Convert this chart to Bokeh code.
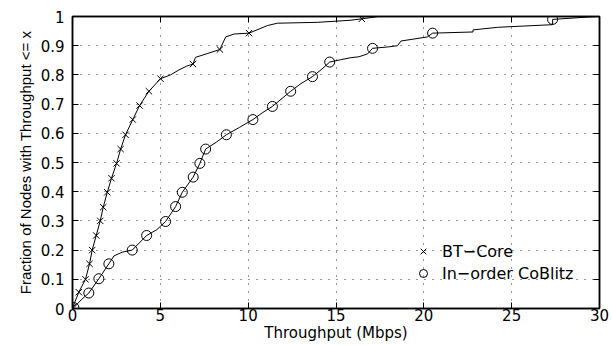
from bokeh.plotting import figure
from bokeh.models import (Range1d, LinearAxis, FixedTicker, CustomJSTickFormatter,
                          Legend, LegendItem)
from bokeh.embed import file_html
from bokeh.resources import INLINE

# ---- data ----
bt_x = [0, 0.02, 0.36, 0.74, 0.97, 1.12, 1.35, 1.58, 1.75, 1.98, 2.22, 2.51, 2.74, 3.02,
        3.43, 3.82, 4.35, 5.01, 5.58, 6.06, 6.5, 6.86, 7.0, 7.67, 8.39, 8.72, 9.2, 10.05,
        11.1, 11.66, 13.94, 15.8, 16.47, 17.4, 30]
bt_y = [0, 0.005, 0.056, 0.10, 0.153, 0.2, 0.25, 0.30, 0.347, 0.398, 0.446, 0.497, 0.546,
        0.595, 0.647, 0.695, 0.744, 0.787, 0.80, 0.817, 0.83, 0.837, 0.86, 0.873, 0.887,
        0.93, 0.94, 0.943, 0.969, 0.977, 0.98, 0.987, 0.992, 1.0, 1.0]
bt_mx = [0.02, 0.36, 0.74, 0.97, 1.12, 1.35, 1.58, 1.75, 1.98, 2.22, 2.51, 2.74, 3.02,
         3.43, 3.82, 4.35, 5.01, 6.86, 8.39, 10.05, 16.47]
bt_my = [0.005, 0.056, 0.10, 0.153, 0.2, 0.25, 0.30, 0.347, 0.398, 0.446, 0.497, 0.546,
         0.595, 0.647, 0.695, 0.744, 0.787, 0.837, 0.887, 0.943, 0.992]

cb_x = [0, 0.08, 0.5, 0.93, 1.5, 2.07, 2.36, 2.83, 3.4, 4.22, 4.8, 5.3, 5.87, 6.25, 6.87,
        7.25, 7.58, 8.2, 8.76, 9.5, 10.27, 10.8, 11.38, 12.42, 13.0, 13.66, 14.2, 14.64,
        15.27, 15.84, 16.3, 16.8, 17.08, 18.0, 18.5, 18.7, 20.2, 20.5, 22.8, 22.8, 24.2,
        27.33, 27.33, 29.3, 30]
cb_y = [0, 0.003, 0.03, 0.053, 0.102, 0.153, 0.18, 0.193, 0.2, 0.25, 0.27, 0.298, 0.349,
        0.398, 0.45, 0.497, 0.546, 0.57, 0.595, 0.62, 0.647, 0.67, 0.692, 0.744, 0.77,
        0.794, 0.82, 0.844, 0.852, 0.859, 0.862, 0.872, 0.891, 0.896, 0.90, 0.916, 0.93,
        0.943, 0.947, 0.954, 0.963, 0.972, 0.99, 0.998, 1.0]
cb_mx = [0.08, 0.93, 1.5, 2.07, 3.4, 4.22, 5.3, 5.87, 6.25, 6.87, 7.25, 7.58, 8.76, 10.27,
         11.38, 12.42, 13.66, 14.64, 17.08, 20.5, 27.33]
cb_my = [0.003, 0.053, 0.102, 0.153, 0.2, 0.25, 0.298, 0.349, 0.398, 0.45, 0.497, 0.546,
         0.595, 0.647, 0.692, 0.744, 0.794, 0.844, 0.891, 0.943, 0.99]

x_ticks = [0, 5, 10, 15, 20, 25, 30]
y_ticks = [0, 0.1, 0.2, 0.3, 0.4, 0.5, 0.6, 0.7, 0.8, 0.9, 1.0]
labels = ["BT\u2212Core", "In\u2212order CoBlitz"]

p = figure(width=613, height=345, output_backend="svg", toolbar_location=None,
           x_range=Range1d(0, 30), y_range=Range1d(0, 1),
           min_border_left=72, min_border_right=14, min_border_top=16, min_border_bottom=37,
           x_axis_label="Throughput (Mbps)",
           y_axis_label="Fraction of Nodes with Throughput <= x")
p.outline_line_color = "black"
p.outline_line_width = 1.5
p.background_fill_color = "white"
p.border_fill_color = "white"

fmt = CustomJSTickFormatter(code="return Number(tick.toFixed(1)).toString();")
blank = CustomJSTickFormatter(code="return '';")

for ax in p.xaxis:
    ax.ticker = FixedTicker(ticks=x_ticks)
for ax in p.yaxis:
    ax.ticker = FixedTicker(ticks=y_ticks)
    ax.formatter = fmt

for ax in list(p.xaxis) + list(p.yaxis):
    ax.major_tick_in = 6
    ax.major_tick_out = 0
    ax.minor_tick_line_color = None
    ax.axis_line_color = "black"
    ax.axis_line_width = 1.5
    ax.major_tick_line_color = "black"
    ax.major_label_text_color = "black"
    ax.major_label_text_font = "DejaVu Sans"
    ax.major_label_text_font_size = "15px"
    ax.axis_label_text_color = "black"
    ax.axis_label_text_font_style = "normal"

p.xaxis.major_label_standoff = 0
p.xaxis.axis_label_standoff = 0
p.xaxis.axis_label_text_font = "DejaVu Sans"
p.xaxis.axis_label_text_font_size = "15px"
p.yaxis.major_label_standoff = 8
p.yaxis.axis_label_standoff = 4
p.yaxis.axis_label_text_font = "Liberation Sans"
p.yaxis.axis_label_text_font_size = "15px"

top = LinearAxis(ticker=FixedTicker(ticks=x_ticks), formatter=blank,
                 major_tick_in=6, major_tick_out=0, minor_tick_line_color=None,
                 major_label_standoff=0, axis_line_width=1.5)
right = LinearAxis(ticker=FixedTicker(ticks=y_ticks), formatter=blank,
                   major_tick_in=6, major_tick_out=0, minor_tick_line_color=None,
                   major_label_standoff=0, axis_line_width=1.5)
p.add_layout(top, "above")
p.add_layout(right, "right")

for g in (p.xgrid[0], p.ygrid[0]):
    g.grid_line_color = "#333333"
    g.grid_line_dash = "1 7"
    g.grid_line_width = 1
p.xgrid[0].ticker = FixedTicker(ticks=x_ticks)
p.ygrid[0].ticker = FixedTicker(ticks=y_ticks)

p.line(bt_x, bt_y, line_color="black", line_width=1)
p.line(cb_x, cb_y, line_color="black", line_width=1)
r1 = p.scatter(bt_mx, bt_my, marker="x", size=9, line_color="black", line_width=1)
r2 = p.scatter(cb_mx, cb_my, marker="circle", size=10, fill_color=None,
               line_color="black", line_width=1)

legend = Legend(items=[LegendItem(label=labels[0], renderers=[r1]),
                       LegendItem(label=labels[1], renderers=[r2])],
                location=(341, 25), border_line_color=None, background_fill_alpha=0,
                padding=0, margin=0, spacing=2, glyph_width=20, glyph_height=20,
                label_height=20, label_standoff=9, label_text_font="DejaVu Sans",
                label_text_font_size="16px", label_text_color="black")
p.add_layout(legend, "center")

open("out.html", "w").write(file_html(p, INLINE))
